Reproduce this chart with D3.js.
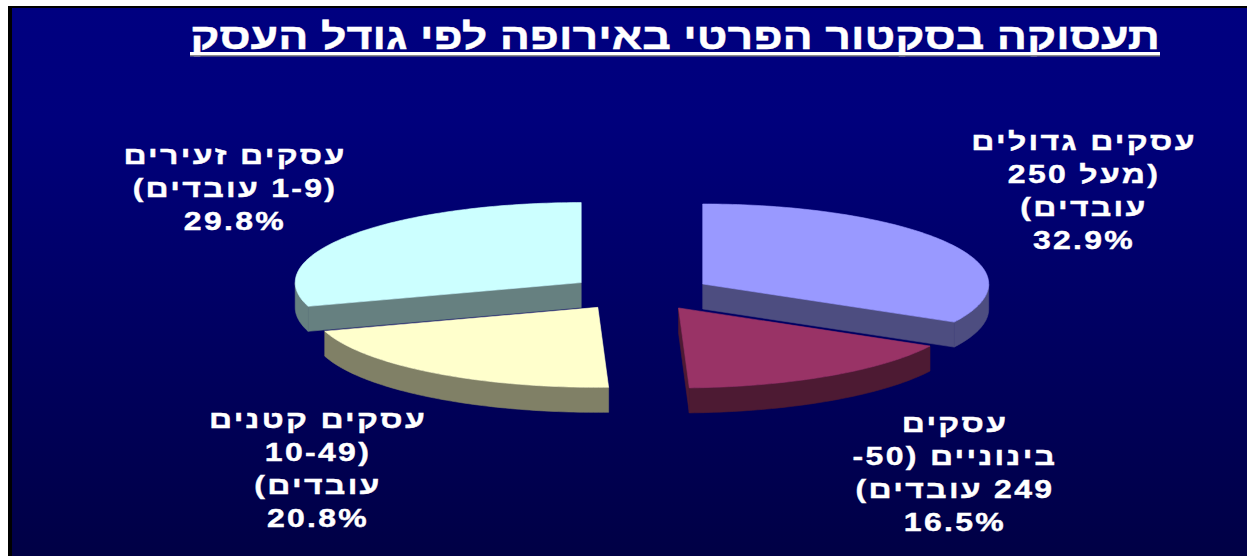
<!DOCTYPE html>
<html><head><meta charset="utf-8">
<script src="https://cdn.jsdelivr.net/npm/d3@7"></script>
<style>html,body{margin:0;padding:0;background:#fff;overflow:hidden}</style>
</head><body>
<svg id="chart" width="1247" height="556"></svg>
<script>
// ---------- data ----------
const title = "תעסוקה בסקטור הפרטי באירופה לפי גודל העסק";
const categories = [
  "עסקים גדולים (מעל 250 עובדים)",
  "עסקים בינוניים (50-249 עובדים)",
  "עסקים קטנים (10-49 עובדים)",
  "עסקים זעירים (1-9 עובדים)"
];
const labelLines = [
  ["עסקים גדולים", "(מעל 250", "עובדים)"],
  ["עסקים", "בינוניים (50-", "249 עובדים)"],
  ["עסקים קטנים", "(10-49", "עובדים)"],
  ["עסקים זעירים", "(1-9 עובדים)"]
];
const values = [32.9, 16.5, 20.8, 29.8];

// ---------- style / layout ----------
const topColors  = ["#9999FF", "#993366", "#FFFFCC", "#CCFFFF"];
const sideColors = ["#4D4D80", "#4D1A33", "#808066", "#668080"];
const labelX = [1084, 955, 318, 235];
const labelY0 = [150, 432, 428, 164];
const lineH = 33;
const FONT = "'Liberation Sans', Arial, 'DejaVu Sans', sans-serif";

const W = 1247, H = 556;
const cx = 640, cy = 293, rx = 286, ry = 80, depth = 25, ex = 73, ey = 17.6;

const svg = d3.select("#chart");
const defs = svg.append("defs");
const grad = defs.append("linearGradient").attr("id", "bg")
  .attr("x1", 0).attr("y1", 0).attr("x2", 0).attr("y2", 1);
grad.append("stop").attr("offset", "0%").attr("stop-color", "#000080");
grad.append("stop").attr("offset", "20%").attr("stop-color", "#00007c");
grad.append("stop").attr("offset", "100%").attr("stop-color", "#000044");

svg.append("rect").attr("x", 8).attr("y", 6).attr("width", W).attr("height", H).attr("fill", "#000");
svg.append("rect").attr("x", 12).attr("y", 8).attr("width", W).attr("height", H).attr("fill", "url(#bg)");

// ---------- title ----------
const titleX = 675, titleW = 970;
const tt = svg.append("text")
  .attr("x", titleX).attr("y", 49)
  .attr("text-anchor", "middle").attr("direction", "rtl")
  .attr("font-family", FONT).attr("font-weight", "bold").attr("font-size", 36)
  .attr("fill", "#fff").attr("stroke", "#fff").attr("stroke-width", 0.4)
  .text(title);
const tw = tt.node().getComputedTextLength();
const ts = titleW / tw;
tt.attr("transform", `translate(${titleX},0) scale(${ts},1) translate(${-titleX},0)`);
svg.append("rect").attr("x", titleX - titleW / 2).attr("y", 55).attr("width", titleW).attr("height", 1.5).attr("fill", "#888");
svg.append("rect").attr("x", titleX - titleW / 2).attr("y", 52).attr("width", titleW).attr("height", 3).attr("fill", "#fff");

// ---------- 3D exploded pie ----------
const pieData = d3.pie().sort(null).value(d => d)(values);
const proj = (ox, oy, a, h) => [ox + rx * Math.sin(a), oy - ry * Math.cos(a) + h];
function arcPts(ox, oy, a0, a1, h) {
  const n = Math.max(2, Math.ceil((a1 - a0) / (Math.PI / 180)));
  return d3.range(n + 1).map(k => proj(ox, oy, a0 + (a1 - a0) * k / n, h));
}
const line = d3.line();
const slices = pieData.map((p, i) => {
  const mid = (p.startAngle + p.endAngle) / 2;
  return Object.assign({}, p, { i, mid, ox: cx + ex * Math.sin(mid), oy: cy - ey * Math.cos(mid) });
}).sort((a, b) => a.oy - b.oy);

const pieG = svg.append("g");
slices.forEach(s => {
  const g = pieG.append("g");
  const side = sideColors[s.i], top = topColors[s.i];
  const faces = [];
  if (Math.sin(s.startAngle) < -1e-6) {
    const r0 = proj(s.ox, s.oy, s.startAngle, 0), r1 = proj(s.ox, s.oy, s.startAngle, depth);
    faces.push([[s.ox, s.oy], r0, r1, [s.ox, s.oy + depth]]);
  }
  if (Math.sin(s.endAngle) > 1e-6) {
    const r0 = proj(s.ox, s.oy, s.endAngle, 0), r1 = proj(s.ox, s.oy, s.endAngle, depth);
    faces.push([[s.ox, s.oy], r0, r1, [s.ox, s.oy + depth]]);
  }
  const w0 = Math.max(s.startAngle, Math.PI / 2), w1 = Math.min(s.endAngle, 3 * Math.PI / 2);
  if (w1 > w0) {
    faces.push(arcPts(s.ox, s.oy, w0, w1, 0).concat(arcPts(s.ox, s.oy, w0, w1, depth).reverse()));
  }
  faces.forEach(f => g.append("path").attr("d", line(f) + "Z")
    .attr("fill", side).attr("stroke", side).attr("stroke-width", 0.6).attr("stroke-linejoin", "round"));
  const topPts = [[s.ox, s.oy]].concat(arcPts(s.ox, s.oy, s.startAngle, s.endAngle, 0));
  g.append("path").attr("d", line(topPts) + "Z")
    .attr("fill", top).attr("stroke", top).attr("stroke-width", 0.6).attr("stroke-linejoin", "round");
});

// ---------- labels ----------
const fmt = d3.format(".1f");
const labelScale = 1.28;
labelLines.forEach((lines, i) => {
  const all = lines.concat([fmt(values[i]) + "%"]);
  const x = labelX[i];
  const g = svg.append("g").attr("class", "label").attr("data-cat", categories[i])
    .attr("transform", `translate(${x},0) scale(${labelScale},1) translate(${-x},0)`);
  all.forEach((ln, k) => {
    g.append("text")
      .attr("x", x).attr("y", labelY0[i] + k * lineH)
      .attr("text-anchor", "middle").attr("direction", "rtl")
      .attr("font-family", FONT).attr("font-weight", "bold").attr("font-size", 25)
      .attr("letter-spacing", 1.8)
      .attr("fill", "#fff").attr("stroke", "#fff").attr("stroke-width", 0.4)
      .text(ln);
  });
});
</script>
</body></html>
